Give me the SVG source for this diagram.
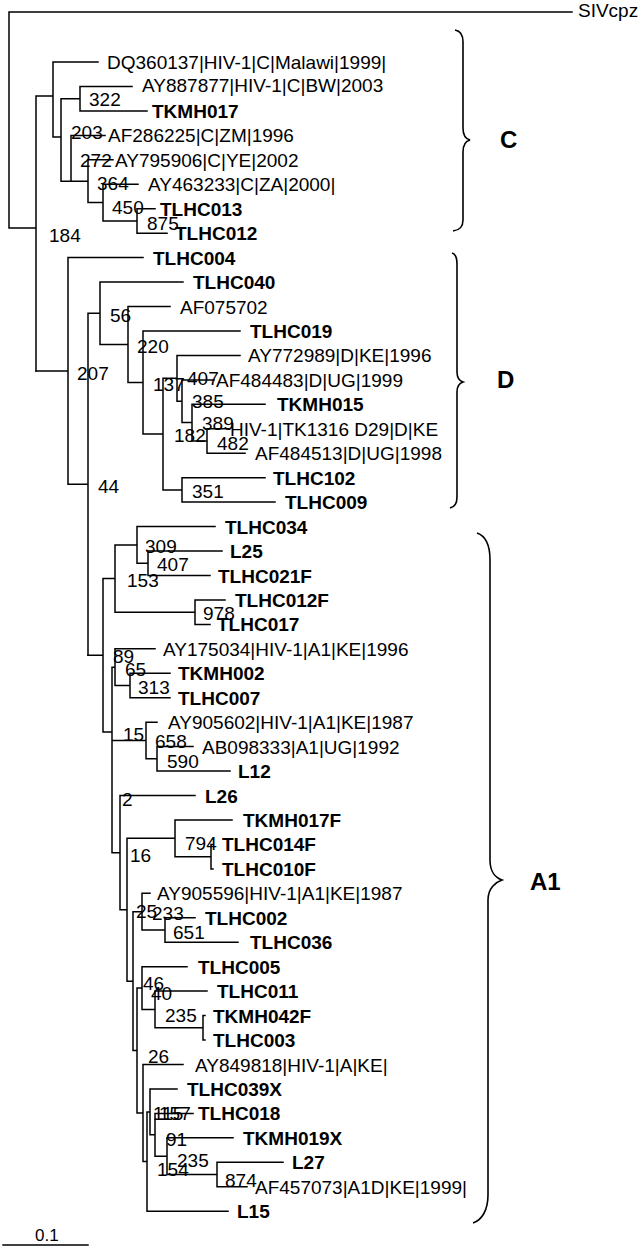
<svg xmlns="http://www.w3.org/2000/svg" width="642" height="1251" viewBox="0 0 642 1251">
<style>
.br{stroke:#000;stroke-width:1.5;fill:none;stroke-linecap:square}
.brace{stroke:#000;stroke-width:1.6;fill:none}
text{font-family:"Liberation Sans",Arial,sans-serif;font-size:19px;fill:#000}
.b{font-weight:bold}
.bs{font-size:19px}
.clade{font-weight:bold;font-size:24px}
</style>
<rect width="642" height="1251" fill="#fff"/>
<g id="connectors">
<path class="br" d="M9,12 H572 M9,12 V228 H36 M36,96 V371
M36,96 H53 M53,62 V137 M53,62 H98 M53,137 H61
M61,98.7 V181.2 M61,98.7 H80
M80,86.5 V110.9 M80,86.5 H132 M80,110.9 H147
M61,181.2 H88
M71,135.4 V181.2 M71,135.4 H105
M88,159.8 V202.6 M88,159.8 H113 M88,202.6 H103
M103,184.3 V221 M103,184.3 H138 M103,221 H137
M137,208.7 V233.2 M137,208.7 H155 M137,233.2 H167"/>
<path class="br" d="M36,371 H68
M68,257.6 V484.3 M68,257.6 H143 M68,484.3 H88
M88,313.3 V655.2 M88,313.3 H100
M100,282.1 V344.5 M100,282.1 H183 M100,344.5 H128
M128,306.5 V382.6 M128,306.5 H170 M128,382.6 H143
M143,331 V434.1 M143,331 H240 M143,434.1 H163
M163,378.3 V489.9 M163,378.3 H177 M163,489.9 H182
M177,355.4 V401.3 M177,355.4 H240 M177,401.3 H182
M182,379.9 V422.6 M182,379.9 H214 M182,422.6 H192
M192,404.3 V441 M192,404.3 H265 M192,441 H207
M207,428.8 V453.2 M207,428.8 H229 M207,453.2 H245
M182,477.7 V502.1 M182,477.7 H265 M182,502.1 H275"/>
<path class="br" d="M88,655.2 H103
M103,578.5 V731.9 M103,578.5 H115
M115,544.9 V612.2 M115,544.9 H137 M115,612.2 H195
M137,526.6 V563.3 M137,526.6 H215 M137,563.3 H148
M148,551 V575.5 M148,551 H222 M148,575.5 H210
M195,599.9 V624.4 M195,599.9 H225 M195,624.4 H210
M103,731.9 H112
M112,667.2 V852.7 M112,667.2 H115
M115,648.8 V685.5 M115,648.8 H155 M115,685.5 H130
M130,673.3 V697.7 M130,673.3 H170 M130,697.7 H170
M112,740.5 H146
M146,722.2 V758.8 M146,722.2 H157 M146,758.8 H157
M157,746.6 V771.1 M157,746.6 H193 M157,771.1 H230
M112,852.7 H120
M120,795.5 V909.8 M120,795.5 H195 M120,909.8 H127
M127,838.3 V981.2 M127,838.3 H175 M127,981.2 H133
M175,820 V856.7 M175,820 H232 M175,856.7 H211
M211,844.4 V868.9 M211,844.4 H213 M211,868.9 H213
M133,911.7 V1050.6 M133,911.7 H142 M133,1050.6 H137
M142,893.3 V930 M142,893.3 H150 M142,930 H165
M165,917.8 V942.2 M165,917.8 H195 M165,942.2 H238
M137,988.1 V1113.1 M137,988.1 H142 M137,1113.1 H143
M142,966.7 V1009.5 M142,966.7 H187 M142,1009.5 H155
M155,991.1 V1027.8 M155,991.1 H207 M155,1027.8 H203
M203,1015.6 V1040 M203,1015.6 H205 M203,1040 H205
M143,1064.5 V1161.6 M143,1064.5 H183 M143,1161.6 H147
M147,1111.9 V1211.2 M147,1111.9 H150 M147,1211.2 H228
M150,1088.9 V1134.8 M150,1088.9 H177 M150,1134.8 H155
M155,1113.4 V1156.2 M155,1113.4 H193 M155,1156.2 H167
M167,1137.8 V1174.5 M167,1137.8 H233 M167,1174.5 H217
M217,1162.3 V1186.7 M217,1162.3 H283 M217,1186.7 H247"/>
</g>
<g id="leaves">
<g id="n-SIVcpz"><text x="578" y="17">SIVcpz</text></g>
<g id="n-DQ360137"><text x="107" y="69">DQ360137|HIV-1|C|Malawi|1999|</text></g>
<g id="n-AY887877"><text x="142" y="92">AY887877|HIV-1|C|BW|2003</text></g>
<g id="n-TKMH017"><text class="b" x="152" y="118">TKMH017</text></g>
<g id="n-AF286225"><text x="108" y="142">AF286225|C|ZM|1996</text></g>
<g id="n-AY795906"><text x="115" y="167">AY795906|C|YE|2002</text></g>
<g id="n-AY463233"><text x="148" y="191">AY463233|C|ZA|2000|</text></g>
<g id="n-TLHC013"><text class="b" x="160" y="216">TLHC013</text></g>
<g id="n-TLHC012"><text class="b" x="175" y="240">TLHC012</text></g>
<g id="n-TLHC004"><text class="b" x="153" y="265">TLHC004</text></g>
<g id="n-TLHC040"><text class="b" x="193" y="289">TLHC040</text></g>
<g id="n-AF075702"><text x="180" y="314">AF075702</text></g>
<g id="n-TLHC019"><text class="b" x="250" y="338">TLHC019</text></g>
<g id="n-AY772989"><text x="248" y="362">AY772989|D|KE|1996</text></g>
<g id="n-AF484483"><text x="216" y="387">AF484483|D|UG|1999</text></g>
<g id="n-TKMH015"><text class="b" x="277" y="411">TKMH015</text></g>
<g id="n-TK1316"><text x="230" y="436">HIV-1|TK1316 D29|D|KE</text></g>
<g id="n-AF484513"><text x="255" y="460">AF484513|D|UG|1998</text></g>
<g id="n-TLHC102"><text class="b" x="273" y="485">TLHC102</text></g>
<g id="n-TLHC009"><text class="b" x="285" y="509">TLHC009</text></g>
<g id="n-TLHC034"><text class="b" x="225" y="534">TLHC034</text></g>
<g id="n-L25"><text class="b" x="230" y="558">L25</text></g>
<g id="n-TLHC021F"><text class="b" x="218" y="583">TLHC021F</text></g>
<g id="n-TLHC012F"><text class="b" x="235" y="607">TLHC012F</text></g>
<g id="n-TLHC017"><text class="b" x="217" y="631">TLHC017</text></g>
<g id="n-AY175034"><text x="163" y="656">AY175034|HIV-1|A1|KE|1996</text></g>
<g id="n-TKMH002"><text class="b" x="178" y="680">TKMH002</text></g>
<g id="n-TLHC007"><text class="b" x="178" y="705">TLHC007</text></g>
<g id="n-AY905602"><text x="168" y="729">AY905602|HIV-1|A1|KE|1987</text></g>
<g id="n-AB098333"><text x="202" y="754">AB098333|A1|UG|1992</text></g>
<g id="n-L12"><text class="b" x="238" y="778">L12</text></g>
<g id="n-L26"><text class="b" x="205" y="803">L26</text></g>
<g id="n-TKMH017F"><text class="b" x="243" y="827">TKMH017F</text></g>
<g id="n-TLHC014F"><text class="b" x="222" y="851">TLHC014F</text></g>
<g id="n-TLHC010F"><text class="b" x="222" y="876">TLHC010F</text></g>
<g id="n-AY905596"><text x="157" y="900">AY905596|HIV-1|A1|KE|1987</text></g>
<g id="n-TLHC002"><text class="b" x="205" y="925">TLHC002</text></g>
<g id="n-TLHC036"><text class="b" x="250" y="949">TLHC036</text></g>
<g id="n-TLHC005"><text class="b" x="198" y="974">TLHC005</text></g>
<g id="n-TLHC011"><text class="b" x="217" y="998">TLHC011</text></g>
<g id="n-TKMH042F"><text class="b" x="213" y="1023">TKMH042F</text></g>
<g id="n-TLHC003"><text class="b" x="213" y="1047">TLHC003</text></g>
<g id="n-AY849818"><text x="195" y="1072">AY849818|HIV-1|A|KE|</text></g>
<g id="n-TLHC039X"><text class="b" x="187" y="1096">TLHC039X</text></g>
<g id="n-TLHC018"><text class="b" x="198" y="1120">TLHC018</text></g>
<g id="n-TKMH019X"><text class="b" x="243" y="1145">TKMH019X</text></g>
<g id="n-L27"><text class="b" x="292" y="1169">L27</text></g>
<g id="n-AF457073"><text x="255" y="1194">AF457073|A1D|KE|1999|</text></g>
<g id="n-L15"><text class="b" x="237" y="1218">L15</text></g>
</g>
<g id="bootstrap">
<text class="bs" x="89" y="106">322</text>
<text class="bs" x="71" y="139">203</text>
<text class="bs" x="80" y="167">272</text>
<text class="bs" x="97" y="190">364</text>
<text class="bs" x="112" y="214">450</text>
<text class="bs" x="147" y="230">875</text>
<text class="bs" x="49" y="242">184</text>
<text class="bs" x="110" y="322">56</text>
<text class="bs" x="137" y="353">220</text>
<text class="bs" x="77" y="380">207</text>
<text class="bs" x="187" y="385">407</text>
<text class="bs" x="153" y="391">137</text>
<text class="bs" x="192" y="408">385</text>
<text class="bs" x="202" y="430">389</text>
<text class="bs" x="174" y="442">182</text>
<text class="bs" x="217" y="450">482</text>
<text class="bs" x="98" y="493">44</text>
<text class="bs" x="192" y="498">351</text>
<text class="bs" x="145" y="553">309</text>
<text class="bs" x="157" y="571">407</text>
<text class="bs" x="127" y="587">153</text>
<text class="bs" x="203" y="620">978</text>
<text class="bs" x="113" y="663">89</text>
<text class="bs" x="125" y="676">65</text>
<text class="bs" x="138" y="694">313</text>
<text class="bs" x="123" y="741">15</text>
<text class="bs" x="155" y="748">658</text>
<text class="bs" x="167" y="768">590</text>
<text class="bs" x="122" y="806">2</text>
<text class="bs" x="185" y="850">794</text>
<text class="bs" x="130" y="862">16</text>
<text class="bs" x="136" y="918">25</text>
<text class="bs" x="152" y="920">233</text>
<text class="bs" x="173" y="939">651</text>
<text class="bs" x="143" y="990">46</text>
<text class="bs" x="151" y="1000">40</text>
<text class="bs" x="165" y="1022">235</text>
<text class="bs" x="148" y="1063">26</text>
<text class="bs" x="153" y="1120">115</text>
<text class="bs" x="159" y="1120">157</text>
<text class="bs" x="166" y="1146">91</text>
<text class="bs" x="177" y="1167">235</text>
<text class="bs" x="157" y="1176">154</text>
<text class="bs" x="225" y="1187">874</text>
</g>
<g id="clade-C">
<path class="brace" d="M455,30 C461,31 463,35 463,42 V128 C463,135 466,139 470,140 C466,141 463,145 463,152 V220 C463,227 460,230 453,231"/>
<text class="clade" x="500" y="148">C</text>
</g>
<g id="clade-D">
<path class="brace" d="M452,253 C456,254 457,258 457,264 V372 C457,378 460,381 463,382 C460,383 457,386 457,392 V497 C457,503 455,507 450,508"/>
<text class="clade" x="497" y="388">D</text>
</g>
<g id="clade-A1">
<path class="brace" d="M477,533 C486,536 490,545 490,560 V860 C490,872 496,878 502,880 C496,882 488,888 488,900 V1195 C488,1210 482,1220 473,1223"/>
<text class="clade" x="530" y="890">A1</text>
</g>
<g id="scale">
<path class="br" d="M3,1245 H88"/>
<text x="35" y="1241" style="font-size:17px">0.1</text>
</g>
</svg>
